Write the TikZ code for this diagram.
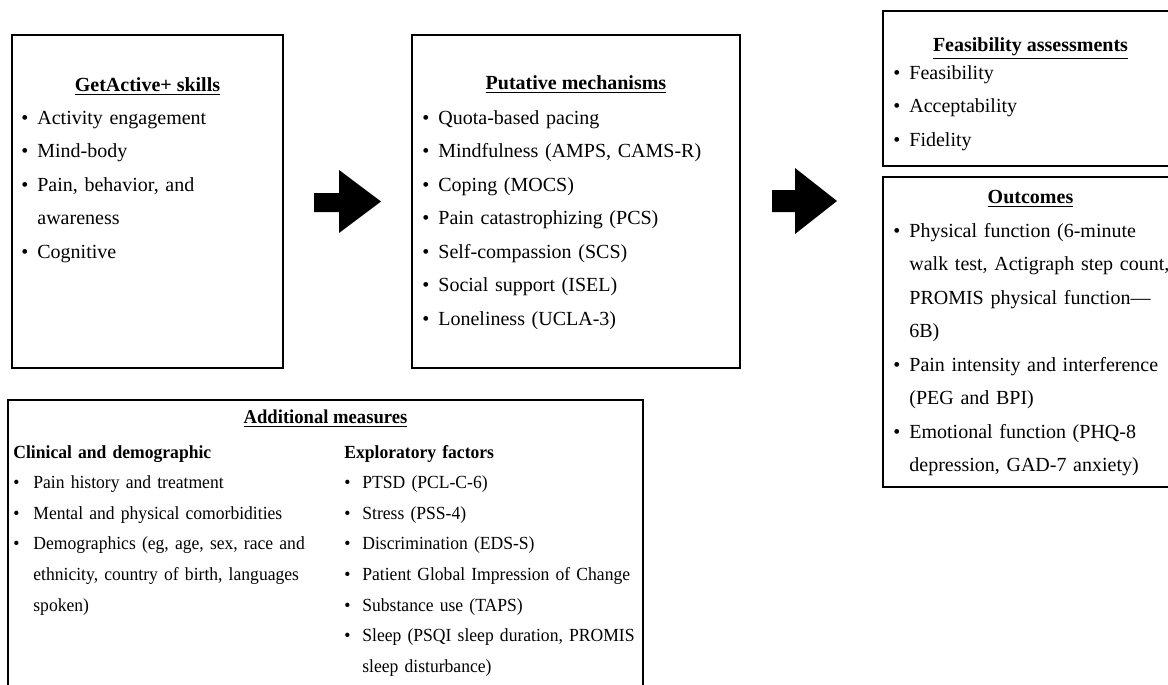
\documentclass[tikz,border=0pt]{standalone}
\usepackage{fontspec}
\setmainfont{Liberation Serif}
\newfontfamily\narrowserif[FakeStretch=0.95]{Liberation Serif}
\newcommand{\bul}[1][8pt]{\makebox[#1][l]{\textbullet}}
\newcommand{\ind}[1][8pt]{\hspace*{#1}}

\begin{document}
\begin{tikzpicture}[x=0.5pt, y=-0.5pt,
	panel/.style={line width=1pt},
	head/.style={anchor=base, inner sep=0pt, font=\fontsize{10}{16.75}\selectfont\bfseries},
	items/.style={anchor=base west, inner sep=0pt, text width=200pt, align=left, font=\fontsize{10}{16.75}\selectfont},
	smallhead/.style={anchor=base, inner sep=0pt, font=\narrowserif\fontsize{9.8}{15.3}\selectfont\bfseries},
	smallitems/.style={anchor=base west, inner sep=0pt, text width=160pt, align=left, font=\narrowserif\fontsize{9.25}{15.3}\selectfont}]
		%%%%% START %%%%%
		
		\useasboundingbox (0, 0) rectangle (1168, 685);
		\clip (0, 0) rectangle (1168, 685);
		
		\draw[panel] (12, 35) rectangle (283, 368);
		\node[head] (skillsHead) at (147.5, 91) {\underline{GetActive+ skills}};
		\node[items] (skillsList) at (21, 124) {\bul Activity engagement\\ \bul Mind-body\\ \bul Pain, behavior, and\\ \ind awareness\\ \bul Cognitive};
		
		\fill (314, 193) -- (339, 193) -- (339, 170) -- (381, 201.5) -- (339, 233) -- (339, 212) -- (314, 212) -- cycle;
		
		\draw[panel] (412, 35) rectangle (740, 368);
		\node[head] (mechHead) at (576, 89) {\underline{Putative mechanisms}};
		\node[items] (mechList) at (422, 124) {\bul Quota-based pacing\\ \bul Mindfulness (AMPS, CAMS-R)\\ \bul Coping (MOCS)\\ \bul Pain catastrophizing (PCS)\\ \bul Self-compassion (SCS)\\ \bul Social support (ISEL)\\ \bul Loneliness (UCLA-3)};
		
		\fill (772, 190) -- (795, 190) -- (795, 168) -- (837, 201) -- (795, 234) -- (795, 212) -- (772, 212) -- cycle;
		
		\draw[panel] (883, 11) rectangle (1180, 166);
		\node[head] (feasHead) at (1030.5, 51) {\underline{Feasibility assessments}};
		\node[items] (feasList) at (893, 79) {\bul Feasibility\\ \bul Acceptability\\ \bul Fidelity};
		
		\draw[panel] (883, 177) rectangle (1180, 487);
		\node[head] (outHead) at (1030.5, 203) {\underline{Outcomes}};
		\node[items] (outList) at (893, 237) {\bul Physical function (6-minute\\ \ind walk test, Actigraph step count,\\ \ind PROMIS physical function---\\ \ind 6B)\\ \bul Pain intensity and interference\\ \ind (PEG and BPI)\\ \bul Emotional function (PHQ-8\\ \ind depression, GAD-7 anxiety)};
		
		\draw[panel] (8, 400) rectangle (643, 700);
		\node[smallhead] (addHead) at (325.5, 423) {\underline{Additional measures}};
		\node[smallitems] (clinList) at (13, 458) {\textbf{Clinical and demographic}\\ \bul[10pt]Pain history and treatment\\ \bul[10pt]Mental and physical comorbidities\\ \bul[10pt]Demographics (eg, age, sex, race and\\ \ind[10pt]ethnicity, country of birth, languages\\ \ind[10pt]spoken)};
		\node[smallitems] (explList) at (344, 458) {\textbf{Exploratory factors}\\ \bul[9pt]PTSD (PCL-C-6)\\ \bul[9pt]Stress (PSS-4)\\ \bul[9pt]Discrimination (EDS-S)\\ \bul[9pt]Patient Global Impression of Change\\ \bul[9pt]Substance use (TAPS)\\ \bul[9pt]Sleep (PSQI sleep duration, PROMIS\\ \ind[9pt]sleep disturbance)};
		
		%%%%% END %%%%%
\end{tikzpicture}
\end{document}
